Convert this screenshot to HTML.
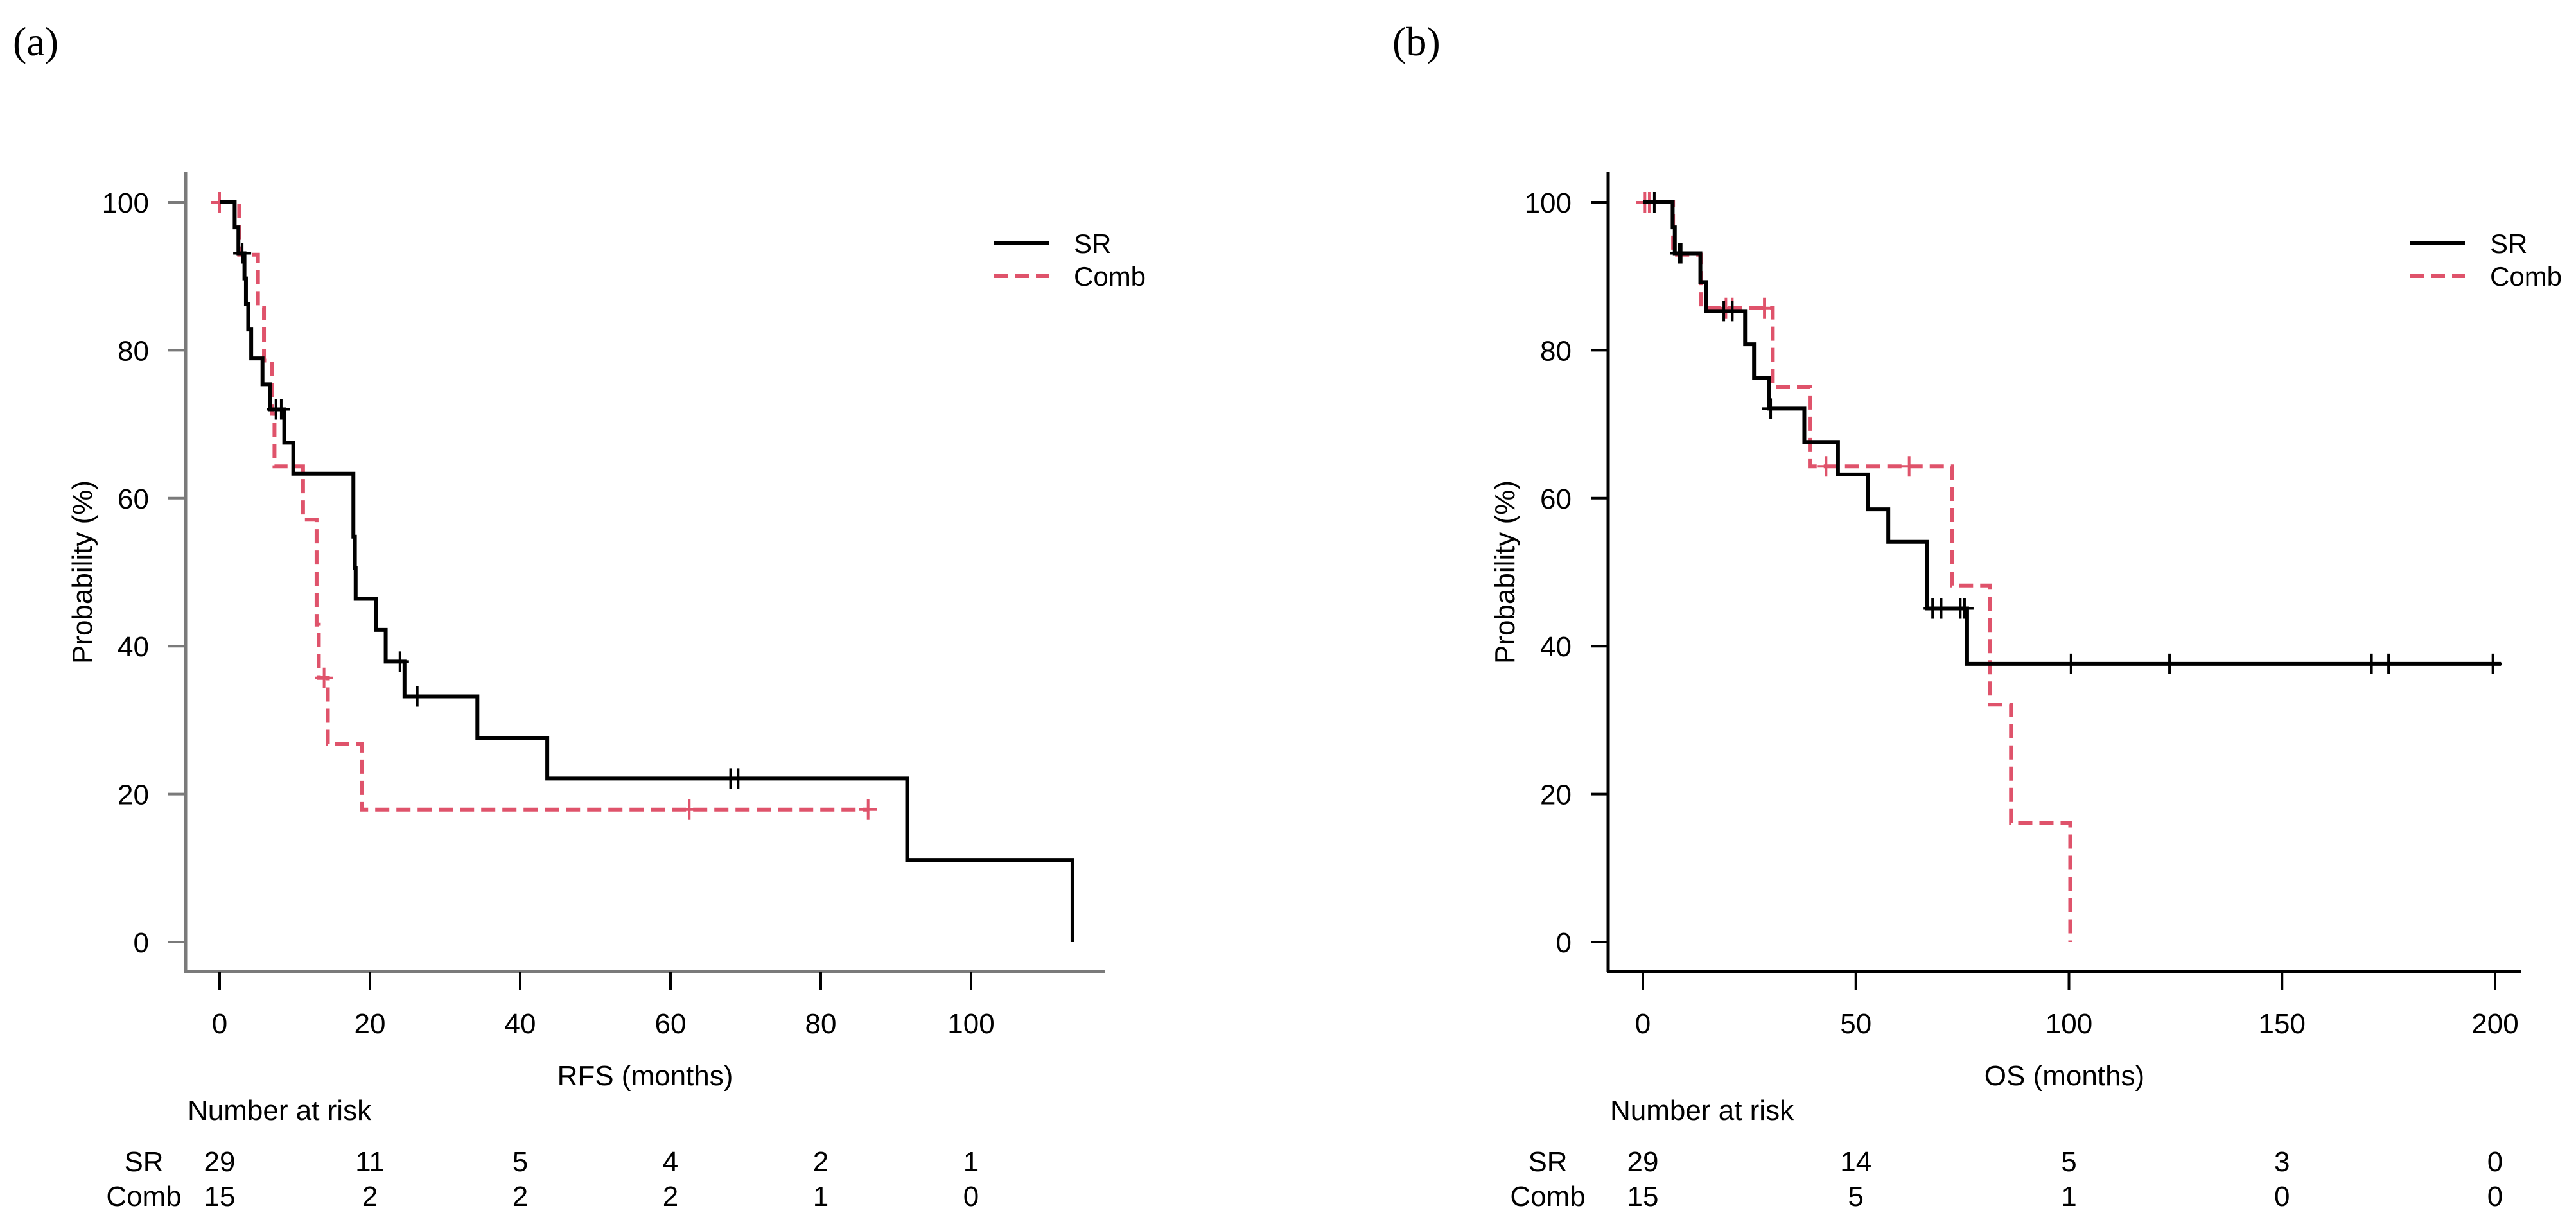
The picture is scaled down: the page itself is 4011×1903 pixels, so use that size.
<!DOCTYPE html>
<html><head><meta charset="utf-8">
<style>
html,body{margin:0;padding:0;background:#fff;}
svg{display:block;}
text{font-family:"Liberation Sans",Arial,sans-serif;fill:#000;}
.serif{font-family:"Liberation Serif",serif;}
</style></head>
<body>
<svg id="fig" width="4011" height="1903" viewBox="0 0 4011 1903" xmlns="http://www.w3.org/2000/svg"></svg>
<script>
// ---- Panel (a) RFS data ----
const rfsSrTimes = [2.0, 2.5, 3.3, 3.5, 3.8, 4.2, 5.7, 6.7, 8.6, 9.8, 17.8, 18.0, 18.1, 20.8, 22.1, 24.6, 34.3, 43.6, 91.5, 113.5];
const rfsSrSurv  = [96.6, 93.1, 89.7, 86.2, 82.8, 78.9, 75.4, 72.0, 67.5, 63.3, 54.8, 50.6, 46.4, 42.2, 37.9, 33.2, 27.6, 22.1, 11.1, 0];
const rfsSrCensT = [3.0, 7.5, 8.2, 24.0, 26.3, 68.0, 69.0];
const rfsSrEnd = 113.5;
const rfsCombTimes = [2.6, 5.1, 5.9, 7.0, 7.3, 11.1, 12.9, 13.2, 14.4, 18.9];
const rfsCombSurv  = [92.9, 85.7, 78.6, 71.4, 64.3, 57.1, 42.9, 35.7, 26.8, 17.9];
const rfsCombCensT = [0, 13.9, 62.5, 86.3];
const rfsCombEnd = 86.3;
const rfsXTicks = [0, 20, 40, 60, 80, 100];
const yTicks = [0, 20, 40, 60, 80, 100];
const rfsRiskSR = ["29","11","5","4","2","1"];
const rfsRiskComb = ["15","2","2","2","1","0"];

// ---- Panel (b) OS data ----
const osSrTimes = [7.0, 7.5, 13.5, 14.9, 24.0, 26.1, 29.6, 37.9, 45.8, 52.8, 57.6, 66.7, 76.1];
const osSrSurv  = [96.6, 93.1, 89.2, 85.3, 80.8, 76.3, 72.1, 67.6, 63.2, 58.5, 54.1, 45.1, 37.6];
const osSrCensT = [2.7, 8.5, 9.0, 19.0, 21.0, 30.0, 68.0, 70.0, 74.5, 75.5, 100.5, 123.6, 171.0, 175.0, 199.5];
const osSrEnd = 201.4;
const osCombTimes = [7.1, 13.7, 30.5, 39.2, 72.5, 81.5, 86.4, 100.3];
const osCombSurv  = [92.9, 85.7, 75.0, 64.3, 48.2, 32.1, 16.1, 0];
const osCombCensT = [0.5, 1.5, 19.5, 21.0, 28.5, 43.0, 62.5];
const osCombEnd = 100.3;
const osXTicks = [0, 50, 100, 150, 200];
const osRiskSR = ["29","14","5","3","0"];
const osRiskComb = ["15","5","1","0","0"];

const NS = "http://www.w3.org/2000/svg";
const svg = document.getElementById("fig");
const RED = "#DF536B";

function mk(tag, attrs, parent){
  const e = document.createElementNS(NS, tag);
  for (const k in attrs) e.setAttribute(k, attrs[k]);
  (parent||svg).appendChild(e);
  return e;
}

function survAt(times, surv, t){
  let s = 100;
  for (let i=0;i<times.length;i++){ if (times[i] <= t) s = surv[i]; }
  return s;
}

function panel(cfg){
  const g = mk("g", {});
  
  
  const X = m => cfg.x0 + m*cfg.xs;
  const Y = p => cfg.y0 - p*cfg.ys;

  const pl = mk("text", {x: cfg.labelX, y: 86, "font-size": 64, "class": "serif"}, g);
  pl.textContent = cfg.label;
  
  

  const ya = mk("line", {x1: cfg.axL, y1: 268, x2: cfg.axL, y2: 1513, stroke: cfg.axColor, "stroke-width": 5}, g);
  
  
  const xa = mk("line", {x1: cfg.axL - 2, y1: 1513, x2: cfg.axR, y2: 1513, stroke: cfg.axColor, "stroke-width": 5}, g);
  
  

  yTicks.forEach(v => {
    const t = mk("line", {x1: cfg.axL - 27, y1: Y(v), x2: cfg.axL, y2: Y(v), stroke: cfg.axColor, "stroke-width": 4}, g);
    
    
    const l = mk("text", {x: cfg.axL - 57, y: Y(v) + 16, "font-size": 44, "text-anchor": "end"}, g);
    l.textContent = String(v);
    
    
  });
  cfg.xTicks.forEach(v => {
    const t = mk("line", {x1: X(v), y1: 1513, x2: X(v), y2: 1541, stroke: "#000", "stroke-width": 4}, g);
    
    
    const l = mk("text", {x: X(v), y: 1609, "font-size": 44, "text-anchor": "middle"}, g);
    l.textContent = String(v);
    
    
  });

  const yt = mk("text", {x: 0, y: 0, "font-size": 44, "text-anchor": "middle", transform: `translate(${cfg.axL - 146},891) rotate(-90)`}, g);
  yt.textContent = "Probability (%)";
  
  
  const xt = mk("text", {x: (cfg.axL + cfg.axR)/2, y: 1690, "font-size": 44, "text-anchor": "middle"}, g);
  xt.textContent = cfg.xTitle;
  
  

  function curve(times, surv, end, censT, color, dashed, nm){
    let d = `M${X(0)},${Y(100)}`;
    for (let i=0;i<times.length;i++){
      d += ` H${X(times[i])} V${Y(surv[i])}`;
    }
    d += ` H${X(end)}`;
    const p = mk("path", {d: d, fill: "none", stroke: color, "stroke-width": 6, "stroke-dasharray": dashed ? "22 11" : "none", "stroke-linejoin": "miter"}, g);
    
    
    censT.forEach(t => {
      const s = survAt(times, surv, t);
      const c = mk("path", {d: `M${X(t)-14},${Y(s)} H${X(t)+14} M${X(t)},${Y(s)-16} V${Y(s)+16}`, stroke: color, "stroke-width": 4, fill: "none"}, g);
      
      
    });
  }
  curve(cfg.combT, cfg.combS, cfg.combEnd, cfg.combC, RED, true, "comb");
  curve(cfg.srT, cfg.srS, cfg.srEnd, cfg.srC, "#000", false, "sr");

  const lg = mk("g", {}, g);
  
  
  const lx = cfg.axR - 173;
  const l1 = mk("line", {x1: lx, y1: 379, x2: lx + 86, y2: 379, stroke: "#000", "stroke-width": 6}, lg);
  
  
  const t1 = mk("text", {x: lx + 125, y: 394, "font-size": 42}, lg);
  t1.textContent = "SR";
  
  
  const l2 = mk("line", {x1: lx, y1: 430, x2: lx + 86, y2: 430, stroke: RED, "stroke-width": 6, "stroke-dasharray": "22 11"}, lg);
  
  
  const t2 = mk("text", {x: lx + 125, y: 445, "font-size": 42}, lg);
  t2.textContent = "Comb";
  
  

  const nr = mk("text", {x: cfg.axL + 3, y: 1744, "font-size": 44}, g);
  nr.textContent = "Number at risk";
  
  
  const r1 = mk("text", {x: cfg.rowLabX, y: 1824, "font-size": 44, "text-anchor": "middle"}, g);
  r1.textContent = "SR";
  
  
  const r2 = mk("text", {x: cfg.rowLabX, y: 1878, "font-size": 44, "text-anchor": "middle"}, g);
  r2.textContent = "Comb";
  
  
  cfg.xTicks.forEach((v,i) => {
    const a = mk("text", {x: X(v), y: 1824, "font-size": 44, "text-anchor": "middle"}, g);
    a.textContent = cfg.riskSR[i];
    
    
    const b = mk("text", {x: X(v), y: 1878, "font-size": 44, "text-anchor": "middle"}, g);
    b.textContent = cfg.riskComb[i];
    
    
  });
}

panel({name: "rfs-panel", label: "(a)", labelX: 20, x0: 342, xs: 11.7, y0: 1467, ys: 11.52,
  axL: 289, axR: 1720, axColor: "#7a7a7a", xTicks: rfsXTicks, xTitle: "RFS (months)", rowLabX: 224,
  srT: rfsSrTimes, srS: rfsSrSurv, srEnd: rfsSrEnd, srC: rfsSrCensT,
  combT: rfsCombTimes, combS: rfsCombSurv, combEnd: rfsCombEnd, combC: rfsCombCensT,
  riskSR: rfsRiskSR, riskComb: rfsRiskComb});

panel({name: "os-panel", label: "(b)", labelX: 2168, x0: 2558, xs: 6.635, y0: 1467, ys: 11.52,
  axL: 2504, axR: 3925, axColor: "#000", xTicks: osXTicks, xTitle: "OS (months)", rowLabX: 2410,
  srT: osSrTimes, srS: osSrSurv, srEnd: osSrEnd, srC: osSrCensT,
  combT: osCombTimes, combS: osCombSurv, combEnd: osCombEnd, combC: osCombCensT,
  riskSR: osRiskSR, riskComb: osRiskComb});
</script>
</body></html>
